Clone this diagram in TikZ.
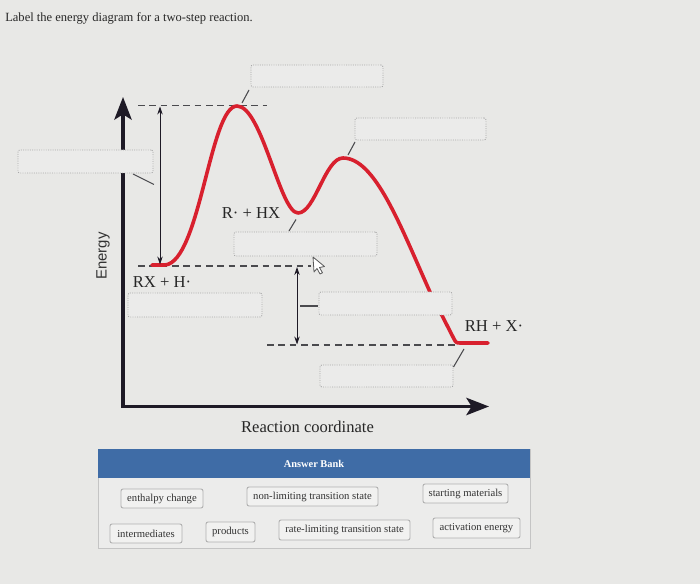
\documentclass[tikz,border=0pt]{standalone}
\usepackage{fontspec}
\setmainfont{Liberation Serif}
\newfontfamily\axisfont{Liberation Sans}
\usetikzlibrary{arrows.meta}
\definecolor{bgc}{HTML}{E8E8E6}
\definecolor{boxfill}{HTML}{EBEBEA}
\definecolor{boxline}{HTML}{A8A8A8}
\definecolor{axisc}{HTML}{1E1A26}
\definecolor{curvec}{HTML}{D8202E}
\definecolor{dashc}{HTML}{4A4A4E}
\definecolor{bankblue}{HTML}{3F6CA6}
\definecolor{chipfill}{HTML}{F1F1F0}
\definecolor{chipline}{HTML}{B0B0B0}
\definecolor{panelfill}{HTML}{ECECEB}
\definecolor{panelline}{HTML}{C4C4C4}
\begin{document}
\begin{tikzpicture}[x=0.75pt,y=-0.75pt,
  axisline/.style={draw=axisc,line width=2.6pt,-{Stealth[length=17pt,width=13pt,inset=4pt]}},
  curveline/.style={draw=curvec,line width=2.7pt,line cap=round,line join=round},
  dashline/.style={draw=dashc,line width=1.1pt,dash pattern=on 5pt off 3.5pt},
  dblarrow/.style={draw=axisc,line width=0.7pt,{Stealth[length=6pt,width=4pt]}-{Stealth[length=6pt,width=4pt]}},
  leader/.style={draw=dashc,line width=0.8pt},
  ansbox/.style={draw=boxline,fill=boxfill,densely dotted,line width=0.7pt,rounded corners=1.5pt,inner sep=0pt},
  chip/.style={draw=chipline,fill=chipfill,line width=0.7pt,rounded corners=1.5pt,inner sep=0pt,font=\fontsize{8}{9}\selectfont,text=black!80},
  lbl/.style={font=\fontsize{12.5}{14}\selectfont,text=black!85,inner sep=0pt}
]
\useasboundingbox (0,0) rectangle (700,584);
\fill[bgc] (0,0) rectangle (700,584);

% title
\node[anchor=west,font=\fontsize{9.4}{11}\selectfont,text=black!85,inner sep=0pt] (title) at (5,18) {Label the energy diagram for a two-step reaction.};

% axes
\coordinate (origin) at (123,406.5);
\coordinate (ytip) at (123,97);
\coordinate (xtip) at (489,406.5);
\draw[axisline] (origin) -- (ytip);
\draw[axisline] ([xshift=-1.3pt]origin) -- (xtip);
\node[rotate=90,font=\axisfont\fontsize{11.2}{13}\selectfont,text=black!80,inner sep=0pt] (energy) at (103,256) {Energy};
\node[font=\fontsize{12.4}{14}\selectfont,text=black!85,inner sep=0pt] (rc) at (307.5,427) {Reaction coordinate};

% dashed reference lines
\coordinate (d1a) at (138,105.5); \coordinate (d1b) at (267,105.5);
\coordinate (d2a) at (138,266); \coordinate (d2b) at (311,266);
\coordinate (d3a) at (267,345); \coordinate (d3b) at (455,345);
\draw[dashline] (d1a) -- (d1b);
\draw[dashline] (d2a) -- (d2b);
\draw[dashline] (d3a) -- (d3b);

% energy curve
\draw[curveline] (152,265) -- (165,265)
  .. controls (200,262) and (210,106) .. (237,106)
  .. controls (262,106) and (280,213) .. (298,213)
  .. controls (315,213) and (325,158) .. (343,158)
  .. controls (375,158) and (400,225) .. (430,292)
  -- (453,337) .. controls (456,343) .. (461,343) -- (488,343);

% double arrows
\coordinate (a1t) at (160,106.5); \coordinate (a1b) at (160,264.5);
\coordinate (a2t) at (297,267); \coordinate (a2b) at (297,344.5);
\draw[dblarrow] (a1t) -- (a1b);
\draw[dblarrow] (a2t) -- (a2b);

% answer boxes
\node[ansbox,minimum width=132*0.75pt,minimum height=22*0.75pt] (b1) at (317,76) {};
\node[ansbox,minimum width=131*0.75pt,minimum height=22*0.75pt] (b2) at (420.5,129) {};
\node[ansbox,minimum width=135*0.75pt,minimum height=23*0.75pt] (b3) at (85.5,161.5) {};
\node[ansbox,minimum width=143*0.75pt,minimum height=24*0.75pt] (b4) at (305.5,244) {};
\node[ansbox,minimum width=134*0.75pt,minimum height=24*0.75pt] (b5) at (195,305) {};
\node[ansbox,minimum width=133*0.75pt,minimum height=23*0.75pt] (b6) at (385.5,303.5) {};
\node[ansbox,minimum width=133*0.75pt,minimum height=22*0.75pt] (b7) at (386.5,376) {};

% leaders
\coordinate (l1a) at (249,90); \coordinate (l1b) at (242,103);
\coordinate (l2a) at (355,142); \coordinate (l2b) at (348,155);
\coordinate (l3a) at (133,174); \coordinate (l3b) at (154,184.5);
\coordinate (l4a) at (296,219.5); \coordinate (l4b) at (289,231);
\coordinate (l6a) at (300,306); \coordinate (l6b) at (318,306);
\coordinate (l7a) at (453.5,367); \coordinate (l7b) at (464,349);
\draw[leader] (l1a) -- (l1b);
\draw[leader] (l2a) -- (l2b);
\draw[leader] (l3a) -- (l3b);
\draw[leader] (l4a) -- (l4b);
\draw[leader] (l6a) -- (l6b);
\draw[leader] (l7a) -- (l7b);

% species labels
\node[lbl] (inter) at (251,213) {R· + HX};
\node[lbl] (start) at (162,282) {RX + H·};
\node[lbl] (prod) at (494,326.5) {RH + X·};

% cursor
\draw[fill=white,draw=black!65,line width=0.6pt,line join=round] (313,257) -- (314,272) -- (317,268.5) -- (320,274) -- (322.5,272.8) -- (319.5,267.5) -- (324.5,266.5) -- cycle;

% answer bank
\node[draw=panelline,fill=panelfill,line width=0.7pt,minimum width=432*0.75pt,minimum height=99*0.75pt,inner sep=0pt] (panel) at (314,498.5) {};
\node[fill=bankblue,minimum width=432*0.75pt,minimum height=29*0.75pt,inner sep=0pt,text=white,font=\bfseries\fontsize{7.8}{9}\selectfont] (bankhead) at (314,463.5) {Answer Bank};

\node[chip,minimum width=82*0.75pt,minimum height=19*0.75pt] (c1) at (162,498.5) {enthalpy change};
\node[chip,minimum width=131*0.75pt,minimum height=19*0.75pt] (c2) at (312.5,496.5) {non-limiting transition state};
\node[chip,minimum width=85*0.75pt,minimum height=19*0.75pt] (c3) at (465.5,493.5) {starting materials};
\node[chip,minimum width=72*0.75pt,minimum height=19*0.75pt] (c4) at (146,533.5) {intermediates};
\node[chip,minimum width=49*0.75pt,minimum height=20*0.75pt] (c5) at (230.5,532) {products};
\node[chip,minimum width=131*0.75pt,minimum height=20*0.75pt] (c6) at (344.5,530) {rate-limiting transition state};
\node[chip,minimum width=87*0.75pt,minimum height=20*0.75pt] (c7) at (476.5,528) {activation energy};
\end{tikzpicture}
\end{document}
